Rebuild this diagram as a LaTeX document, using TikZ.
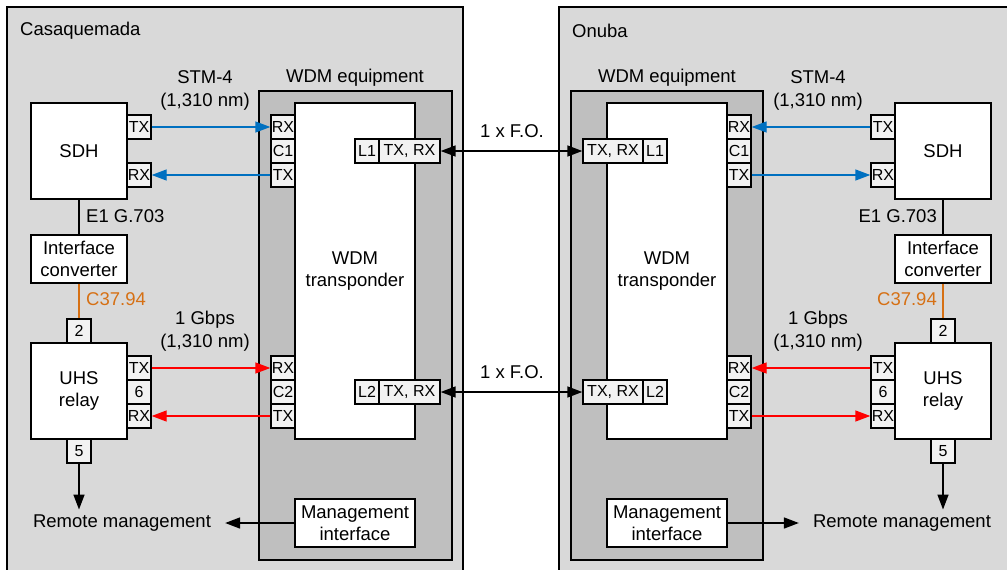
\documentclass[tikz,border=0pt]{standalone}
\usepackage{fontspec}
\setmainfont{Liberation Sans}
\usetikzlibrary{arrows.meta}
\definecolor{outergray}{RGB}{217,217,217}
\definecolor{wdmgray}{RGB}{191,191,191}
\definecolor{portgray}{RGB}{242,242,242}
\definecolor{stmblue}{RGB}{0,112,192}
\definecolor{gbred}{RGB}{255,0,0}
\definecolor{coorange}{RGB}{214,112,20}
\begin{document}
\begin{tikzpicture}[x=1pt,y=-1pt,
  every node/.style={font=\fontsize{18.5}{22}\selectfont},
  frame/.style={draw=black,line width=1.6pt},
  box/.style={draw=black,fill=white,line width=1.6pt,inner sep=0pt,align=center},
  port/.style={draw=black,fill=portgray,line width=1.4pt,inner sep=0pt,
    minimum height=24pt,minimum width=24pt,font=\fontsize{16}{19}\selectfont},
  lbl/.style={inner sep=0pt,align=center},
  tip/.style={-{Triangle[length=15pt,width=11pt]}},
  bluearrow/.style={tip,draw=stmblue,line width=1.4pt},
  redarrow/.style={tip,draw=gbred,line width=1.4pt},
  fiber/.style={{Triangle[length=15pt,width=11pt]}-{Triangle[length=15pt,width=11pt]},line width=1.6pt},
  wire/.style={line width=1.6pt},
  mgmtarrow/.style={tip,line width=1.6pt}
]
\clip (0,0) rectangle (1007,570);
\fill[white] (0,0) rectangle (1007,570);
% site frames
\filldraw[frame,fill=outergray] (7,7) rectangle (463,600);
\filldraw[frame,fill=outergray] (559,7) rectangle (1030,600);
\node[lbl,anchor=west] (casa) at (20,31) {Casaquemada};
\node[lbl,anchor=west] (onuba) at (572,31) {Onuba};
% WDM equipment frames
\filldraw[frame,fill=wdmgray] (259,91) rectangle (452,560);
\filldraw[frame,fill=wdmgray] (571,91) rectangle (763,560);
\node[lbl] (wdmeqL) at (355,78) {WDM equipment};
\node[lbl] (wdmeqR) at (667,78) {WDM equipment};
% transponders
\node[box,minimum width=120pt,minimum height=336pt] (trL) at (355,271) {WDM\\transponder};
\node[box,minimum width=120pt,minimum height=336pt] (trR) at (667,271) {WDM\\transponder};
% management interfaces
\node[box,minimum width=120pt,minimum height=48pt] (mgL) at (355,523) {Management\\interface};
\node[box,minimum width=120pt,minimum height=48pt] (mgR) at (667,523) {Management\\interface};
% left WDM ports
\node[port] (rx1L) at (283,127) {RX};
\node[port] (c1L) at (283,151) {C1};
\node[port] (tx1L) at (283,175) {TX};
\node[port] (rx2L) at (283,368) {RX};
\node[port] (c2L) at (283,392) {C2};
\node[port] (tx2L) at (283,416) {TX};
\node[port] (l1L) at (367,151) {L1};
\node[port,minimum width=61pt] (tr1L) at (409.5,151) {TX, RX};
\node[port] (l2L) at (367,392) {L2};
\node[port,minimum width=61pt] (tr2L) at (409.5,392) {TX, RX};
% right WDM ports
\node[port] (rx1R) at (739,127) {RX};
\node[port] (c1R) at (739,151) {C1};
\node[port] (tx1R) at (739,175) {TX};
\node[port] (rx2R) at (739,368) {RX};
\node[port] (c2R) at (739,392) {C2};
\node[port] (tx2R) at (739,416) {TX};
\node[port] (l1R) at (655,151) {L1};
\node[port,minimum width=60pt] (tr1R) at (613,151) {TX, RX};
\node[port] (l2R) at (655,392) {L2};
\node[port,minimum width=60pt] (tr2R) at (613,392) {TX, RX};
% left equipment
\node[box,minimum width=96pt,minimum height=96pt] (sdhL) at (79,151) {SDH};
\node[port] (sdhtxL) at (139,127) {TX};
\node[port] (sdhrxL) at (139,175) {RX};
\node[box,minimum width=96pt,minimum height=48pt] (icL) at (79,259) {Interface\\converter};
\node[box,minimum width=96pt,minimum height=96pt] (uhsL) at (79,391) {UHS\\relay};
\node[port] (p2L) at (79,331) {2};
\node[port] (utxL) at (139,368) {TX};
\node[port] (u6L) at (139,392) {6};
\node[port] (urxL) at (139,416) {RX};
\node[port] (p5L) at (79,451) {5};
\node[lbl,inner xsep=14pt,inner ysep=5pt] (rmL) at (122,523) {Remote management};
% right equipment
\node[box,minimum width=96pt,minimum height=96pt] (sdhR) at (943,151) {SDH};
\node[port] (sdhtxR) at (883,127) {TX};
\node[port] (sdhrxR) at (883,175) {RX};
\node[box,minimum width=96pt,minimum height=48pt] (icR) at (943,259) {Interface\\converter};
\node[box,minimum width=96pt,minimum height=96pt] (uhsR) at (943,391) {UHS\\relay};
\node[port] (p2R) at (943,331) {2};
\node[port] (utxR) at (883,368) {TX};
\node[port] (u6R) at (883,392) {6};
\node[port] (urxR) at (883,416) {RX};
\node[port] (p5R) at (943,451) {5};
\node[lbl,inner xsep=14pt,inner ysep=5pt] (rmR) at (902,523) {Remote management};
% link labels
\node[lbl,font=\fontsize{18.5}{23}\selectfont] (stmL) at (205,90) {STM-4\\(1,310 nm)};
\node[lbl,font=\fontsize{18.5}{23}\selectfont] (stmR) at (818,90) {STM-4\\(1,310 nm)};
\node[lbl,font=\fontsize{18.5}{23}\selectfont] (gbL) at (205,331) {1 Gbps\\(1,310 nm)};
\node[lbl,font=\fontsize{18.5}{23}\selectfont] (gbR) at (818,331) {1 Gbps\\(1,310 nm)};
\node[lbl] (fo1) at (512,131) {1 x F.O.};
\node[lbl] (fo2) at (512,372) {1 x F.O.};
\node[lbl,anchor=west] (e1L) at (86,216) {E1 G.703};
\node[lbl,anchor=east] (e1R) at (937,216) {E1 G.703};
\node[lbl,anchor=west,text=coorange] (coL) at (86,299) {C37.94};
\node[lbl,anchor=east,text=coorange] (coR) at (937,299) {C37.94};
% connectors left
\draw[bluearrow] (sdhtxL.east) -- (rx1L.west);
\draw[bluearrow] (tx1L.west) -- (sdhrxL.east);
\draw[redarrow] (utxL.east) -- (rx2L.west);
\draw[redarrow] (tx2L.west) -- (urxL.east);
\draw[wire] (sdhL.south) -- (icL.north);
\draw[wire,draw=coorange] (icL.south) -- (p2L.north);
\draw[mgmtarrow] (p5L.south) -- (p5L.south |- rmL.north);
\draw[mgmtarrow] (mgL.west) -- (rmL.east);
% connectors right
\draw[bluearrow] (sdhtxR.west) -- (rx1R.east);
\draw[bluearrow] (tx1R.east) -- (sdhrxR.west);
\draw[redarrow] (utxR.west) -- (rx2R.east);
\draw[redarrow] (tx2R.east) -- (urxR.west);
\draw[wire] (sdhR.south) -- (icR.north);
\draw[wire,draw=coorange] (icR.south) -- (p2R.north);
\draw[mgmtarrow] (p5R.south) -- (p5R.south |- rmR.north);
\draw[mgmtarrow] (mgR.east) -- (rmR.west);
% fibres
\draw[fiber] (tr1L.east) -- (tr1R.west);
\draw[fiber] (tr2L.east) -- (tr2R.west);
\end{tikzpicture}
\end{document}
